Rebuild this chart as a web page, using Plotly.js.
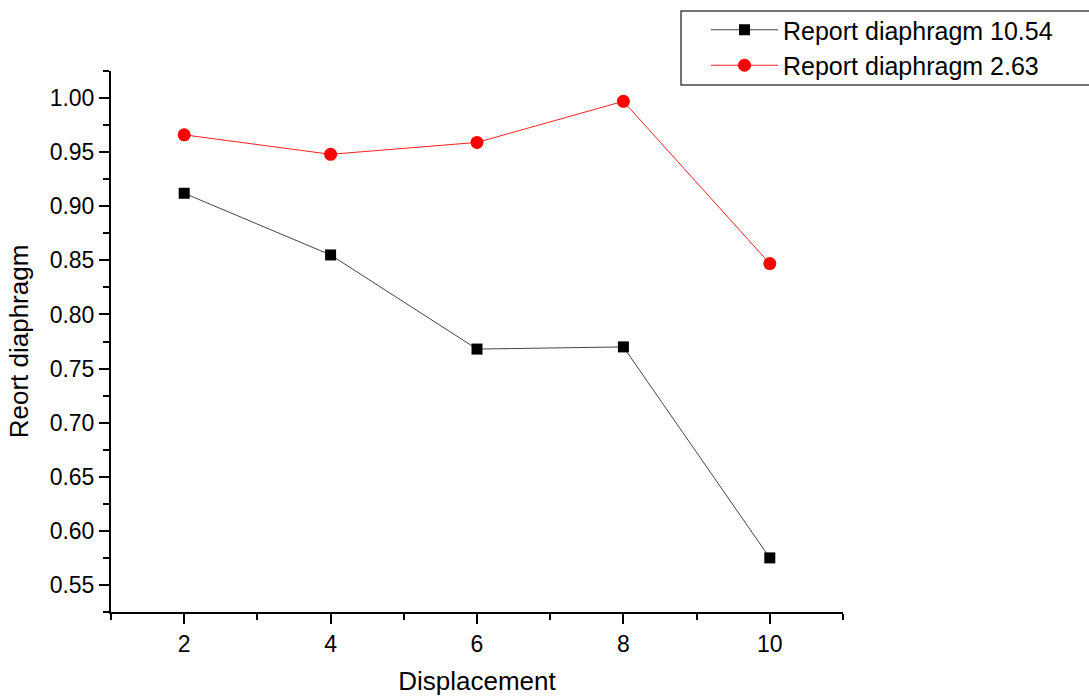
<!DOCTYPE html>
<html>
<head>
<meta charset="utf-8">
<script src="https://cdn.plot.ly/plotly-3.0.1.min.js"></script>
<style>html,body{margin:0;padding:0;background:#fff;}#chart{width:1089px;height:697px;}</style>
</head>
<body>
<div id="chart"></div>
<script>
const displacement = [2, 4, 6, 8, 10];
const series1Name = "Report diaphragm 10.54";
const series1 = [0.912, 0.855, 0.768, 0.770, 0.575];
const series2Name = "Report diaphragm 2.63";
const series2 = [0.966, 0.948, 0.959, 0.997, 0.847];
const xTitle = "Displacement";
const yTitle = "Reort diaphragm";

const fontFam = "Liberation Sans, Arial, sans-serif";
const traces = [
  {x: displacement, y: series1, name: series1Name, type: "scatter", mode: "lines+markers",
   line: {color: "#444444", width: 1}, marker: {symbol: "square", size: 11, color: "#000000"}},
  {x: displacement, y: series2, name: series2Name, type: "scatter", mode: "lines+markers",
   line: {color: "#ff2020", width: 1}, marker: {symbol: "circle", size: 13, color: "#ff0000"}}
];
const layout = {
  width: 1089, height: 697,
  margin: {l: 111, r: 246, t: 71, b: 85, autoexpand: false},
  paper_bgcolor: "#fff", plot_bgcolor: "#fff",
  font: {family: fontFam, color: "#000"},
  showlegend: true,
  legend: {xref: "container", yref: "container", x: 706 / 1089, y: 1 - 7 / 697,
    xanchor: "left", yanchor: "top",
    borderwidth: 0, font: {size: 25, family: fontFam},
    itemwidth: 67, tracegroupgap: 0, bgcolor: "rgba(0,0,0,0)"},
  shapes: [{type: "rect", xref: "paper", yref: "paper",
    x0: (681 - 111) / 732, x1: (1095 - 111) / 732,
    y0: 1 + (71 - 85) / 541, y1: 1 + (71 - 11) / 541,
    line: {color: "#444", width: 1.5}, fillcolor: "rgba(0,0,0,0)", layer: "below"}],
  xaxis: {range: [1, 11], tickmode: "linear", tick0: 2, dtick: 2,
    showgrid: false, zeroline: false, showline: true, linecolor: "#000", linewidth: 2,
    ticks: "outside", ticklen: 10, tickwidth: 2, tickcolor: "#000",
    tickfont: {size: 23},
    minor: {tickmode: "linear", tick0: 1, dtick: 1, ticks: "outside", ticklen: 6, tickwidth: 2, tickcolor: "#000", showgrid: false},
    title: {text: xTitle, font: {size: 26}, standoff: 16}},
  yaxis: {range: [0.525, 1.025], tickmode: "linear", tick0: 0.55, dtick: 0.05, tickformat: ".2f",
    showgrid: false, zeroline: false, showline: true, linecolor: "#000", linewidth: 2,
    ticks: "outside", ticklen: 10, tickwidth: 2, tickcolor: "#000",
    tickfont: {size: 23},
    minor: {tickmode: "linear", tick0: 0.525, dtick: 0.025, ticks: "outside", ticklen: 6, tickwidth: 2, tickcolor: "#000", showgrid: false},
    title: {text: yTitle, font: {size: 26}, standoff: 14}}
};
Plotly.newPlot("chart", traces, layout, {staticPlot: true, displayModeBar: false});
</script>
</body>
</html>
